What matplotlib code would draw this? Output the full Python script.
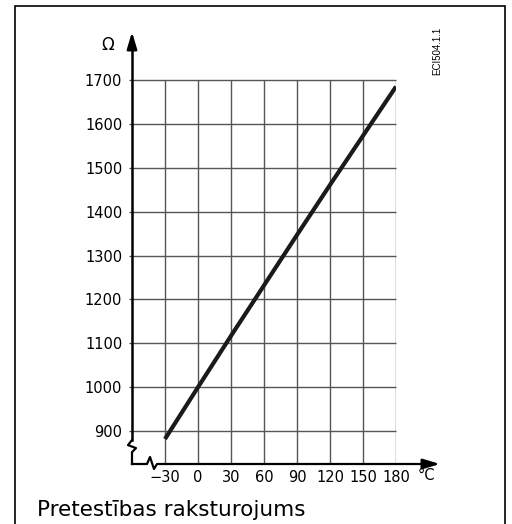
import matplotlib
matplotlib.use("Agg")
from matplotlib import pyplot as plt
from matplotlib.patches import Rectangle

# resistance characteristic
temps = [-30, 0, 30, 60, 90, 120, 150, 180]
ohms = [882, 1000, 1117, 1232, 1347, 1461, 1573, 1685]

x_ticks = [-30, 0, 30, 60, 90, 120, 150, 180]
y_ticks = [900, 1000, 1100, 1200, 1300, 1400, 1500, 1600, 1700]

W, H = 512, 524
fig = plt.figure(figsize=(W / 100, H / 100), dpi=100)

# outer frame, open at the bottom
fig.patches.append(Rectangle((15 / W, -0.05), 490 / W, 1.05 - 6 / H,
                             transform=fig.transFigure, fill=False,
                             edgecolor='black', linewidth=1.2))

# axes placed so that -60..180 / 825..1700 fill the grid area
x0, x1 = 132, 396
y_top, y_bot = 80, 464
ax = fig.add_axes([x0 / W, (H - y_bot) / H, (x1 - x0) / W, (y_bot - y_top) / H])
ax.set_xlim(-60, 180)
ax.set_ylim(825, 1700)
for s in ax.spines.values():
    s.set_visible(False)
ax.patch.set_alpha(0)

grid_col = '#555555'
ax.hlines(y_ticks, -63, 180, color=grid_col, linewidth=1.0, clip_on=False)
ax.vlines(x_ticks, 825, 1700, color=grid_col, linewidth=1.0)

ax.set_xticks(x_ticks)
ax.set_xticklabels(['\u221230'] + [str(t) for t in x_ticks[1:]])
ax.set_yticks(y_ticks)
ax.tick_params(axis='y', length=0, labelsize=10.5, pad=7)
ax.tick_params(axis='x', length=0, labelsize=10.5, pad=4)
for lab in ax.get_xticklabels() + ax.get_yticklabels():
    lab.set_family('DejaVu Sans')

# the characteristic
ax.plot(temps, ohms, color='#1a1a1a', linewidth=3.0, solid_capstyle='butt')

# y axis with break
px_x = 1.1      # pixels per degree
px_y = 0.43875  # pixels per ohm
yb = 1700 - (440 - 80) / px_y
ax.plot([-60, -60], [yb, 1700 + 36 / px_y], color='black', linewidth=1.8, clip_on=False)
ax.plot([-60, -60 - 4 / px_x, -60 + 4 / px_x, -60, -60],
        [yb, yb - 5 / px_y, yb - 8 / px_y, yb - 12 / px_y, 825],
        color='black', linewidth=1.6, clip_on=False)
ax.annotate('', xy=(-60, 1700 + 48 / px_y), xytext=(-60, 1700 + 33 / px_y),
            arrowprops=dict(arrowstyle='-|>,head_length=1.0,head_width=0.3',
                            color='black', lw=1.8, shrinkA=0, shrinkB=0),
            annotation_clip=False)

# x axis with break
xb = -60 + 15 / px_x
ax.plot([-60, xb, xb + 3 / px_x, xb + 7 / px_x, xb + 10 / px_x, 180 + 30 / px_x],
        [825, 825, 825 + 7 / px_y, 825 - 5 / px_y, 825, 825],
        color='black', linewidth=1.6, clip_on=False)
ax.annotate('', xy=(180 + 44 / px_x, 825), xytext=(180 + 28 / px_x, 825),
            arrowprops=dict(arrowstyle='-|>,head_length=1.0,head_width=0.3',
                            color='black', lw=1.8, shrinkA=0, shrinkB=0),
            annotation_clip=False)

# units and labels
fig.text(108 / W, 1 - 45 / H, '\u03a9', fontsize=12,
         ha='center', va='center', family='DejaVu Sans')
fig.text(426 / W, 1 - 475 / H, '\u00b0C', fontsize=10.5,
         ha='center', va='center', family='DejaVu Sans')
fig.text(437 / W, 1 - 51 / H, 'ECI504.1.1', fontsize=7, rotation=90,
         ha='center', va='center', family='Liberation Sans')
fig.text(37 / W, 1 - 510 / H, 'Pretestības raksturojums', fontsize=15.5,
         ha='left', va='center', family='DejaVu Sans')

fig.savefig('out.png', dpi=100)
